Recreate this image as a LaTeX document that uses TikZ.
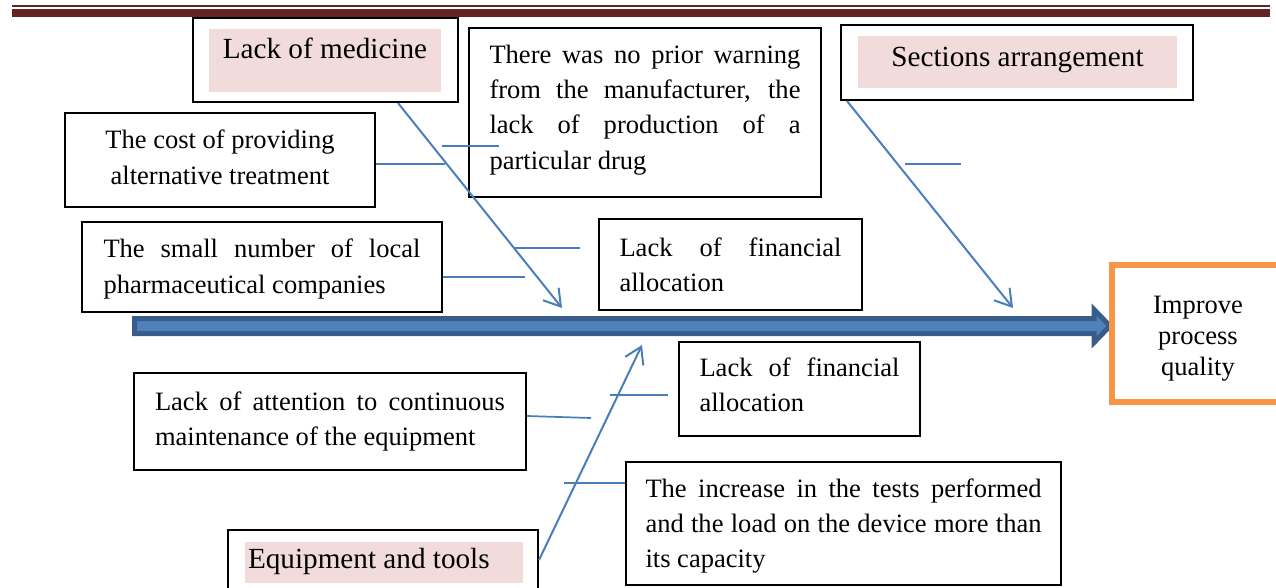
\documentclass[tikz,border=0pt]{standalone}
\usepackage{fontspec}
\setmainfont{Liberation Serif}
\usetikzlibrary{arrows.meta}
\definecolor{rulered}{RGB}{99,36,35}
\definecolor{pinkc}{RGB}{242,219,219}
\definecolor{boneblue}{RGB}{74,126,187}
\definecolor{spinedark}{RGB}{56,93,138}
\definecolor{spinefill}{RGB}{79,129,189}
\definecolor{orangec}{RGB}{247,150,70}
\newcommand\bodyfont{\fontsize{19.9pt}{26.6pt}\selectfont}
\newcommand\titlefont{\fontsize{21.9pt}{26.3pt}\selectfont}
\newcommand\impfont{\fontsize{19.9pt}{23.25pt}\selectfont}
\newcommand\jline[1]{\makebox[\linewidth][s]{#1}\\}
\begin{document}
\begin{tikzpicture}[x=0.75pt,y=-0.75pt,
  outbox/.style={draw=black,line width=1.5pt,rectangle,inner sep=0pt},
  pinkbox/.style={fill=pinkc,rectangle,inner sep=0pt,font=\titlefont},
  txtbox/.style={outbox,font=\bodyfont},
  bone/.style={draw=boneblue,line width=1.5pt,-{Straight Barb[length=12pt,width=15pt]}},
  stub/.style={draw=boneblue,line width=1.3pt},
]
\useasboundingbox (0,0) rectangle (1276,588);
% top rules
\fill[rulered] (12,4.8) rectangle (1270,6.6);
\fill[rulered] (12,9.3) rectangle (1270,16.7);

% spine
\draw[line width=3.75pt,draw=spinedark,fill=spinefill,line join=miter]
  (134.5,318.5) -- (1094,318.5) -- (1094,309.5) -- (1110,326) -- (1094,342.5) -- (1094,333.5) -- (134.5,333.5) -- cycle;

% effect box
\node[draw=orangec,line width=4.5pt,rectangle,inner sep=0pt,font=\impfont,
  minimum width=129.75pt,minimum height=103.1pt] (effect) at (1198,333.75)
  {\parbox[c][103.1pt][t]{120pt}{\vspace*{20.3pt}\centering\strut Improve\\process\\quality}};

% category boxes
\node[outbox,minimum width=198.75pt,minimum height=63pt] (med) at (325.5,60) {};
\node[pinkbox,minimum width=174pt,minimum height=47.25pt] (medlabel) at (325,60.5)
  {\parbox[c][47.25pt][t]{174pt}{\vspace*{3.4pt}\centering\strut Lack of medicine}};

\node[outbox,minimum width=264pt,minimum height=56.25pt] (sect) at (1017,62.5) {};
\node[pinkbox,minimum width=239.25pt,minimum height=39pt] (sectlabel) at (1017.5,62)
  {\parbox[c][39pt][t]{239.25pt}{\vspace*{4.15pt}\centering\strut Sections arrangement}};

\node[outbox,minimum width=232.5pt,minimum height=52.5pt] (equip) at (383,565) {};
\node[pinkbox,minimum width=208.5pt,minimum height=30.75pt] (equiplabel) at (384,562.5)
  {\parbox[c][30.75pt][t]{208.5pt}{\vspace*{1.1pt}\raggedright\hspace*{2.25pt}\strut Equipment and tools}};

% cause boxes
\node[txtbox,minimum width=232.5pt,minimum height=70.5pt] (cost) at (220,160)
  {\parbox[c][70.5pt][t]{195pt}{\vspace*{8.1pt}\centering\strut The cost of providing\\alternative treatment}};

\node[txtbox,minimum width=270pt,minimum height=67.5pt] (small) at (262,267)
  {\parbox[c][67.5pt][t]{237.75pt}{\vspace*{8.1pt}\jline{\strut The small number of local}pharmaceutical companies}};

\node[txtbox,minimum width=264pt,minimum height=126.75pt] (warn) at (645,112.5)
  {\parbox[c][126.75pt][t]{233.25pt}{\vspace*{7.65pt}\jline{\strut There was no prior warning}\jline{from the manufacturer, the}\jline{lack of production of a}particular drug}};

\node[txtbox,minimum width=197.25pt,minimum height=68.25pt] (fintop) at (730.5,264.5)
  {\parbox[c][68.25pt][t]{166.5pt}{\vspace*{9.15pt}\jline{\strut Lack of financial}allocation}};

\node[txtbox,minimum width=180.75pt,minimum height=70.5pt] (finbot) at (799.5,389)
  {\parbox[c][70.5pt][t]{150pt}{\vspace*{6.9pt}\jline{\strut Lack of financial}allocation}};

\node[txtbox,minimum width=294pt,minimum height=72.75pt] (attn) at (330,421.5)
  {\parbox[c][72.75pt][t]{262.5pt}{\vspace*{9.15pt}\jline{\strut Lack of attention to continuous}maintenance of the equipment}};

\node[txtbox,minimum width=326.25pt,minimum height=92.25pt] (incr) at (843.5,523.5)
  {\parbox[c][92.25pt][t]{297pt}{\vspace*{7.65pt}\jline{\strut The increase in the tests performed}\jline{and the load on the device more than}its capacity}};

% bones
\coordinate (medstart) at (398,102);
\coordinate (medtip) at (562,308);
\coordinate (sectstart) at (847,100);
\coordinate (secttip) at (1013,308);
\coordinate (equipstart) at (539,560);
\coordinate (equiptip) at (642,345);
\draw[bone] (med.south -| medstart) -- (medtip);
\draw[bone] (sect.south -| sectstart) -- (secttip);
\draw[bone] (equipstart) -- (equiptip);

% stubs
\coordinate (s1) at (445,164);
\draw[stub] (cost.east |- s1) -- (s1);
\coordinate (s2a) at (442,146);
\coordinate (s2b) at (499,146);
\draw[stub] (s2a) -- (s2b);
\coordinate (s3a) at (515,248);
\coordinate (s3b) at (580,248);
\draw[stub] (s3a) -- (s3b);
\coordinate (s4) at (525,277);
\draw[stub] (small.east |- s4) -- (s4);
\coordinate (s5a) at (905,164);
\coordinate (s5b) at (961,164);
\draw[stub] (s5a) -- (s5b);
\coordinate (s6y) at (0,416);
\coordinate (s6) at (591,418);
\draw[stub] (attn.east |- s6y) -- (s6);
\coordinate (s7a) at (610,395);
\coordinate (s7b) at (668,395);
\draw[stub] (s7a) -- (s7b);
\coordinate (s8) at (564,483);
\draw[stub] (s8) -- (incr.west |- s8);
\end{tikzpicture}
\end{document}
